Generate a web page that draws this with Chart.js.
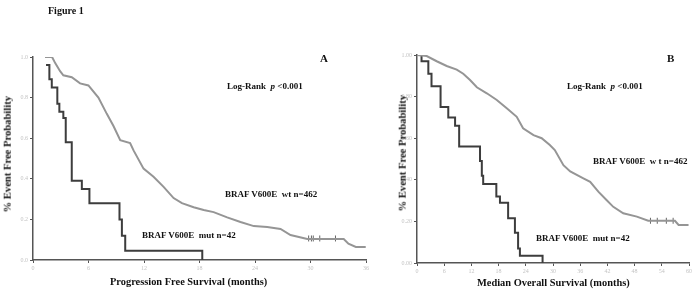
<!DOCTYPE html>
<html>
<head>
<meta charset="utf-8">
<script src="https://cdn.jsdelivr.net/npm/chart.js@4.4.1/dist/chart.umd.min.js"></script>
<style>
  html, body { margin: 0; padding: 0; background: #fff; }
  #wrap { position: relative; width: 698px; height: 297px; overflow: hidden;
          font-family: "Liberation Serif", "Times New Roman", serif; font-weight: bold; color: #111; }
  canvas { position: absolute; top: 0; }
  .t { position: absolute; white-space: pre; line-height: 1; }
  .ytitle { position: absolute; width: 160px; text-align: center; white-space: pre; line-height: 1;
            font-size: 10.6px; transform: rotate(-90deg); }
</style>
</head>
<body>
<div id="wrap">
  <canvas id="pfs" width="380" height="297" style="left:0;width:380px;height:297px"></canvas>
  <canvas id="os" width="302" height="297" style="left:396px;width:302px;height:297px"></canvas>

  <div class="t" style="left:48px;top:6px;font-size:10px">Figure 1</div>
  <div class="t" style="left:320px;top:53px;font-size:11px">A</div>
  <div class="t" style="left:667px;top:53px;font-size:11px">B</div>
  <div class="t" style="left:227px;top:82px;font-size:9px">Log-Rank  <i>p</i> &lt;0.001</div>
  <div class="t" style="left:567px;top:82px;font-size:9px">Log-Rank  <i>p</i> &lt;0.001</div>
  <div class="t" style="left:225px;top:190px;font-size:9px">BRAF V600E  wt n=462</div>
  <div class="t" style="left:142px;top:231px;font-size:9px">BRAF V600E  mut n=42</div>
  <div class="t" style="left:593px;top:157px;font-size:9px">BRAF V600E  w t n=462</div>
  <div class="t" style="left:536px;top:234px;font-size:9px">BRAF V600E  mut n=42</div>
  <div class="t" style="left:110px;top:277px;font-size:10.4px">Progression Free Survival (months)</div>
  <div class="t" style="left:477px;top:278px;font-size:10.4px">Median Overall Survival (months)</div>
  <div class="ytitle" style="left:-72px;top:149px">% Event Free Probability</div>
  <div class="ytitle" style="left:323px;top:148px">% Event Free Probability</div>
</div>

<script>
// Panel A: progression free survival
const pfsWtMonths = [1.3, 2.06, 2.4, 2.93, 3.28, 4.19, 5.09, 5.99, 7.07, 7.98, 8.7, 9.43, 10.5, 10.87, 11.95, 13.03, 14.12, 15.2, 16.1, 17.37, 18.45, 19.53, 20.99, 22.43, 23.87, 25.32, 26.76, 27.84, 29.65, 33.59, 34.1, 34.9, 35.97];
const pfsWtSurv   = [1.0, 1.0, 0.97, 0.93, 0.91, 0.90, 0.87, 0.86, 0.80, 0.72, 0.66, 0.59, 0.576, 0.54, 0.45, 0.41, 0.36, 0.305, 0.28, 0.26, 0.246, 0.236, 0.21, 0.187, 0.167, 0.162, 0.153, 0.123, 0.103, 0.103, 0.08, 0.064, 0.064];
const pfsMutMonths = [1.41, 1.77, 2.03, 2.63, 2.85, 3.28, 3.54, 4.19, 5.28, 6.1, 9.35, 9.61, 9.97, 18.3];
const pfsMutSurv   = [0.96, 0.89, 0.85, 0.77, 0.73, 0.70, 0.58, 0.39, 0.35, 0.28, 0.20, 0.12, 0.045, 0.0];
const pfsCensorMonths = [29.8, 30.1, 30.3, 31.0, 32.7];
const pfsCensorSurv   = [0.106, 0.106, 0.106, 0.106, 0.106];
const pfsTicks = [0, 6, 12, 18, 24, 30, 36];

// Panel B: overall survival
const osWtMonths = [0, 2.14, 4.35, 6.55, 8.76, 10.2, 11.7, 13.2, 15.4, 17.6, 19.8, 22.0, 23.4, 25.7, 27.5, 29.3, 30.4, 32.3, 33.8, 36.7, 38.2, 40.0, 41.8, 43.3, 45.5, 48.5, 51.0, 56.9, 57.7, 59.9];
const osWtSurv   = [1.0, 0.995, 0.97, 0.947, 0.93, 0.91, 0.88, 0.845, 0.816, 0.784, 0.744, 0.703, 0.648, 0.615, 0.60, 0.567, 0.543, 0.47, 0.44, 0.407, 0.39, 0.343, 0.303, 0.27, 0.239, 0.223, 0.203, 0.203, 0.183, 0.183];
const osMutMonths = [0.8, 1.0, 2.5, 3.2, 5.2, 6.9, 8.4, 9.3, 13.9, 14.3, 14.6, 17.5, 18.3, 20.1, 21.6, 22.3, 22.7, 27.7];
const osMutSurv   = [1.0, 0.97, 0.91, 0.85, 0.75, 0.70, 0.66, 0.56, 0.49, 0.42, 0.38, 0.32, 0.29, 0.215, 0.145, 0.07, 0.035, 0.0];
const osCensorMonths = [51.5, 53.0, 55.0, 56.5];
const osCensorSurv   = [0.203, 0.203, 0.203, 0.203];
const osTicks = [0, 6, 12, 18, 24, 30, 36, 42, 48, 54, 60];

const yTicks = [0, 0.2, 0.4, 0.6, 0.8, 1.0];

const wtColor = '#959595';
const mutColor = '#3d3d3d';

function pts(xs, ys) {
  return xs.map((x, i) => ({ x: x, y: ys[i] }));
}

function makeChart(id, opt) {
  new Chart(document.getElementById(id), {
    type: 'line',
    data: {
      datasets: [
        { data: pts(opt.wtX, opt.wtY), borderColor: wtColor, borderWidth: 2, pointRadius: 0, tension: 0 },
        { data: pts(opt.mutX, opt.mutY), borderColor: mutColor, borderWidth: 2, pointRadius: 0, stepped: true },
        { data: pts(opt.cenX, opt.cenY), showLine: false, pointStyle: 'line', rotation: 90,
          pointRadius: 3, pointBorderWidth: 1, pointBorderColor: '#666' }
      ]
    },
    options: {
      responsive: false,
      animation: false,
      plugins: { legend: { display: false }, tooltip: { enabled: false } },
      layout: { padding: opt.padding },
      scales: {
        x: {
          type: 'linear', min: 0, max: opt.xMax,
          afterFit: s => { s.height = 14; },
          afterBuildTicks: s => { s.ticks = opt.xTicks.map(v => ({ value: v })); },
          border: { display: true, color: '#555', width: 1.5 },
          grid: { drawOnChartArea: false, drawTicks: true, tickLength: 3, color: '#555' },
          ticks: { font: { size: 6, family: 'Liberation Serif' }, color: '#c4c4c4', padding: 2, maxRotation: 0 }
        },
        y: {
          min: 0, max: 1,
          afterFit: s => { s.width = opt.yWidth; },
          afterBuildTicks: s => { s.ticks = yTicks.map(v => ({ value: v })); },
          border: { display: true, color: '#555', width: 1.5 },
          grid: { drawOnChartArea: false, drawTicks: true, tickLength: 3, color: '#555' },
          ticks: { font: { size: 6, family: 'Liberation Serif' }, color: '#c4c4c4', padding: 2,
                   callback: v => v.toFixed(opt.yDigits) }
        }
      }
    }
  });
}

makeChart('pfs', {
  wtX: pfsWtMonths, wtY: pfsWtSurv, mutX: pfsMutMonths, mutY: pfsMutSurv,
  cenX: pfsCensorMonths, cenY: pfsCensorSurv, xTicks: pfsTicks, xMax: 36,
  yWidth: 33, yDigits: 1,
  padding: { left: 0, top: 57, right: 14, bottom: 23 }
});

makeChart('os', {
  wtX: osWtMonths, wtY: osWtSurv, mutX: osMutMonths, mutY: osMutSurv,
  cenX: osCensorMonths, cenY: osCensorSurv, xTicks: osTicks, xMax: 60,
  yWidth: 21, yDigits: 2,
  padding: { left: 0, top: 55, right: 9, bottom: 20 }
});
</script>
</body>
</html>
